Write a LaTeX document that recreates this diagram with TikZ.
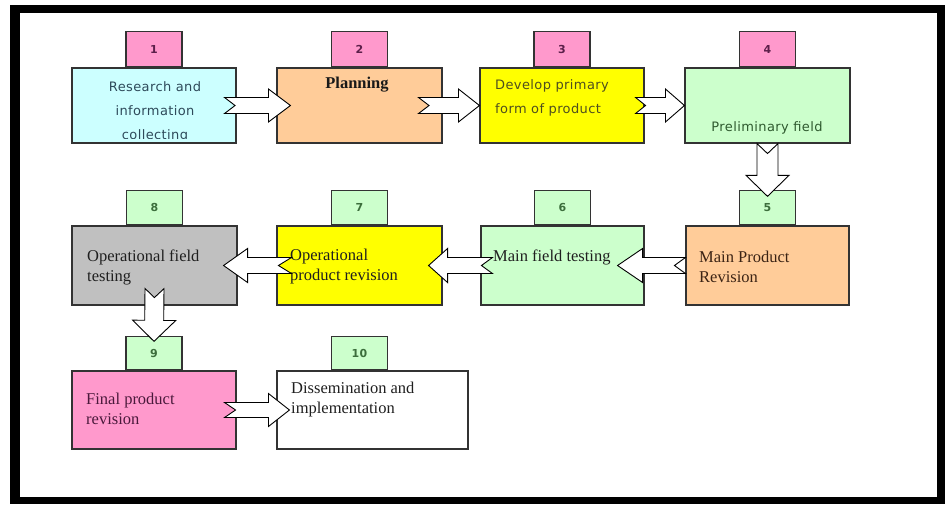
\documentclass[tikz,border=0pt]{standalone}
\usepackage{fontspec}
\setmainfont{Liberation Serif}
\newfontfamily\sansf[LetterSpace=3]{DejaVu Sans}
\usetikzlibrary{calc}
\definecolor{cyanbox}{HTML}{CCFFFF}
\definecolor{peach}{HTML}{FFCC99}
\definecolor{yel}{HTML}{FFFF00}
\definecolor{lgreen}{HTML}{CCFFCC}
\definecolor{pinkb}{HTML}{FF99CC}
\definecolor{grayb}{HTML}{C0C0C0}
\definecolor{slatetxt}{HTML}{2E4A5A}
\definecolor{olivetxt}{HTML}{4F4F1F}
\definecolor{greentxt}{HTML}{2F5A2F}
\definecolor{maroontxt}{HTML}{5C1F4A}
\definecolor{browntxt}{HTML}{3B2314}
\definecolor{tabgreentxt}{HTML}{3C6E3C}
\tikzset{
  box/.style={draw=black!80,line width=1.1pt,inner sep=0pt,minimum width=165pt,minimum height=77pt},
  tab/.style={draw=black!80,line width=1.1pt,inner sep=0pt,minimum width=56pt,minimum height=34pt,anchor=south,
    font=\sansf\fontsize{11}{12}\selectfont\bfseries},
  pinktab/.style={tab,fill=pinkb,text=maroontxt},
  greentab/.style={tab,fill=lgreen,text=tabgreentxt},
  sanst/.style={inner sep=0pt,font=\sansf\fontsize{13}{24}\selectfont},
  serift/.style={inner sep=0pt,font=\fontsize{16.5}{20}\selectfont,text=black!88,anchor=west,align=left},
  barrow/.style={draw=black,fill=white,line width=0.9pt,line join=miter}
}
\newcommand\blockarrow[6]{% shaft half, head half, head length, notch, tail, tip
  \draw[barrow] ($(#5)!#1!90:(#6)$) -- ($(#6)!#3!(#5)!#1!-90:(#5)$) -- ($(#6)!#3!(#5)!#2!-90:(#5)$) -- (#6)
    -- ($(#6)!#3!(#5)!#2!90:(#5)$) -- ($(#6)!#3!(#5)!#1!90:(#5)$) -- ($(#5)!#1!-90:(#6)$) -- ($(#5)!#4!(#6)$) -- cycle;}
\begin{document}
\begin{tikzpicture}[x=1pt,y=-1pt]
\useasboundingbox (0,0) rectangle (945,504);
\fill[white] (0,0) rectangle (945,504);
\fill[black] (10,5) rectangle (945,504);
\fill[white] (20,13) rectangle (937,497);
% row 1
\node[box,fill=cyanbox,minimum width=164pt,minimum height=75pt] (b1) at (154,105.5) {};
\node[box,fill=peach,minimum height=75pt] (b2) at (359.5,105.5) {};
\node[box,fill=yel,minimum width=164pt,minimum height=75pt] (b3) at (562,105.5) {};
\node[box,fill=lgreen,minimum height=75pt] (b4) at (767.5,105.5) {};
% row 2
\node[box,fill=grayb,minimum height=79pt] (b8) at (154.5,265.5) {};
\node[box,fill=yel,minimum height=79pt] (b7) at (359.5,265.5) {};
\node[box,fill=lgreen,minimum width=163pt,minimum height=79pt] (b6) at (562.5,265.5) {};
\node[box,fill=peach,minimum width=163pt,minimum height=79pt] (b5) at (767.5,265.5) {};
% row 3
\node[box,fill=pinkb,minimum width=164pt,minimum height=78pt] (b9) at (154,410) {};
\node[box,fill=white,minimum width=191pt,minimum height=78pt] (b10) at (372.5,410) {};
% tabs
\node[pinktab,minimum height=35pt] (n1) at (b1.north) {1};
\node[pinktab,minimum height=35pt] (n2) at (b2.north) {2};
\node[pinktab,minimum height=35pt] (n3) at (b3.north) {3};
\node[pinktab,minimum height=35pt] (n4) at (b4.north) {4};
\node[greentab] (n8) at (b8.north) {8};
\node[greentab] (n7) at (b7.north) {7};
\node[greentab] (n6) at (b6.north) {6};
\node[greentab] (n5) at (b5.north) {5};
\node[greentab,minimum height=33pt] (n9) at (b9.north) {9};
\node[greentab,minimum height=33pt] (n10) at (b10.north -| b7.center) {10};
% texts
\begin{scope}
  \clip (b1.north west) rectangle ([yshift=5pt]b1.south east);
  \node[sanst,align=center,text=slatetxt] (t1) at (155,112) {Research and\\information\\collecting};
\end{scope}
\node[inner sep=0pt,font=\bfseries\fontsize{16.5}{20}\selectfont,text=black!90] (t2) at (357,85) {Planning};
\node[sanst,anchor=west,align=left,text=olivetxt] (t3) at (495,97.5) {Develop primary\\form of product};
\node[sanst,text=greentxt] (t4) at (767,128) {Preliminary field};
\node[serift,text=browntxt] (t5) at (699,267) {Main Product\\Revision};
\node[serift] (t6) at (493,257) {Main field testing};
\node[serift] (t7) at (290,267) {Operational\\product revision};
\node[serift] (t8) at (87,267) {Operational field\\testing};
\node[serift,text=maroontxt!80!black] (t9) at (86,409) {Final product\\revision};
\node[serift] (t10) at (291,399.5) {Dissemination and\\implementation};
% arrow end points
\coordinate (a12s) at ([xshift=-12pt]b1.east);
\coordinate (a12e) at ([xshift=14pt]b2.west);
\coordinate (a23s) at ([xshift=-24pt]b2.east);
\coordinate (a23e) at (b3.west);
\coordinate (a34s) at ([xshift=-9pt]b3.east);
\coordinate (a34e) at (b4.west);
\coordinate (a45s) at (b4.south);
\coordinate (a45e) at ([yshift=-6pt]n5.north);
\coordinate (a56s) at (b5.west);
\coordinate (a56e) at ([xshift=-27pt]b6.east);
\coordinate (a67s) at ([xshift=12pt]b6.west);
\coordinate (a67e) at ([xshift=-14pt]b7.east);
\coordinate (a78s) at ([xshift=15pt]b7.west);
\coordinate (a78e) at ([xshift=-14pt]b8.east);
\coordinate (a89s) at ([yshift=17pt]b8.south);
\coordinate (a89e) at ([yshift=-5pt]n9.north);
\coordinate (a910s) at ([xshift=-12pt]b9.east);
\coordinate (a910e) at ([xshift=13pt]b10.west);
% arrows
\blockarrow{8pt}{16.5pt}{22pt}{10.5pt}{a12s}{a12e}
\blockarrow{8pt}{16.5pt}{21pt}{10.5pt}{a23s}{a23e}
\blockarrow{8pt}{16.5pt}{19pt}{10pt}{a34s}{a34e}
\blockarrow{10.5pt}{21.5pt}{21pt}{10pt}{a45s}{a45e}
\blockarrow{8pt}{17pt}{25pt}{11pt}{a56s}{a56e}
\blockarrow{8pt}{17pt}{19pt}{11pt}{a67s}{a67e}
\blockarrow{8pt}{17pt}{24pt}{13pt}{a78s}{a78e}
\blockarrow{9.5pt}{21.5pt}{21pt}{9pt}{a89s}{a89e}
\blockarrow{7.5pt}{16.5pt}{21pt}{11pt}{a910s}{a910e}
\end{tikzpicture}
\end{document}
